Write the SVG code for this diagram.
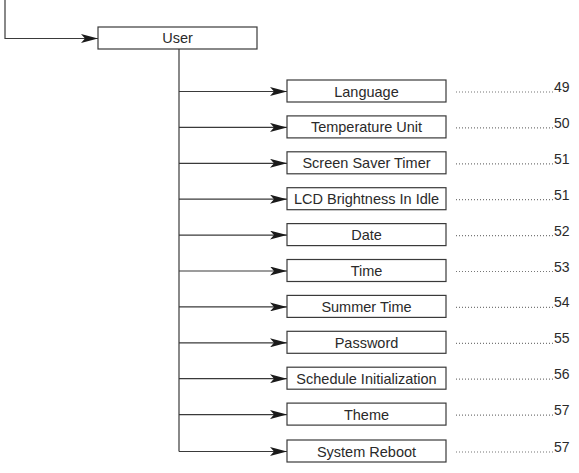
<svg xmlns="http://www.w3.org/2000/svg" width="579" height="473" viewBox="0 0 579 473">
<style>
.box{fill:#fff;stroke:#3a3a3a;stroke-width:1.2}
.lbl{font-family:"Liberation Sans",Arial,sans-serif;font-size:14.5px;fill:#2a2a2a;text-anchor:middle}
.num{font-family:"Liberation Sans",Arial,sans-serif;font-size:14px;fill:#2a2a2a}
.ln{fill:none;stroke:#3a3a3a;stroke-width:1.2}
.arr{fill:none;stroke:#3a3a3a;stroke-width:1.2;marker-end:url(#ah)}
.dot{fill:none;stroke:#777;stroke-width:1.2;stroke-dasharray:1 2}
</style>
<defs>
<marker id="ah" viewBox="0 0 17 9" refX="17" refY="4.5" markerWidth="17" markerHeight="9" markerUnits="userSpaceOnUse" orient="auto">
<path d="M0,0 L17,4.5 L0,9 L4,4.5 z" fill="#1a1a1a"/>
</marker>
</defs>
<g id="connectors">
<path class="arr" d="M5,0 V38.5 H98"/>
<path class="ln" d="M179,49 V451.5"/>
<path class="arr" d="M179,91.5 H287"/>
<path class="arr" d="M179,127.4 H287"/>
<path class="arr" d="M179,163.3 H287"/>
<path class="arr" d="M179,199.2 H287"/>
<path class="arr" d="M179,235.1 H287"/>
<path class="arr" d="M179,271 H287"/>
<path class="arr" d="M179,306.9 H287"/>
<path class="arr" d="M179,342.8 H287"/>
<path class="arr" d="M179,378.7 H287"/>
<path class="arr" d="M179,414.6 H287"/>
<path class="arr" d="M179,451.5 H287"/>
</g>
<g id="user"><rect class="box" x="98" y="27" width="159" height="22"/><text class="lbl" x="177.5" y="43">User</text></g>
<g id="language"><rect class="box" x="287" y="80" width="159" height="22"/><text class="lbl" x="366.5" y="96.5">Language</text><path class="dot" d="M456,92 H553"/><text class="num" x="554" y="92">49</text></g>
<g id="temperature-unit"><rect class="box" x="287" y="115.9" width="159" height="22"/><text class="lbl" x="366.5" y="132.4">Temperature Unit</text><path class="dot" d="M456,127.9 H553"/><text class="num" x="554" y="127.9">50</text></g>
<g id="screen-saver-timer"><rect class="box" x="287" y="151.8" width="159" height="22"/><text class="lbl" x="366.5" y="168.3">Screen Saver Timer</text><path class="dot" d="M456,163.8 H553"/><text class="num" x="554" y="163.8">51</text></g>
<g id="lcd-brightness"><rect class="box" x="287" y="187.7" width="159" height="22"/><text class="lbl" x="366.5" y="204.2">LCD Brightness In Idle</text><path class="dot" d="M456,199.7 H553"/><text class="num" x="554" y="199.7">51</text></g>
<g id="date"><rect class="box" x="287" y="223.6" width="159" height="22"/><text class="lbl" x="366.5" y="240.1">Date</text><path class="dot" d="M456,235.6 H553"/><text class="num" x="554" y="235.6">52</text></g>
<g id="time"><rect class="box" x="287" y="259.5" width="159" height="22"/><text class="lbl" x="366.5" y="276">Time</text><path class="dot" d="M456,271.5 H553"/><text class="num" x="554" y="271.5">53</text></g>
<g id="summer-time"><rect class="box" x="287" y="295.4" width="159" height="22"/><text class="lbl" x="366.5" y="311.9">Summer Time</text><path class="dot" d="M456,307.4 H553"/><text class="num" x="554" y="307.4">54</text></g>
<g id="password"><rect class="box" x="287" y="331.3" width="159" height="22"/><text class="lbl" x="366.5" y="347.8">Password</text><path class="dot" d="M456,343.3 H553"/><text class="num" x="554" y="343.3">55</text></g>
<g id="schedule-init"><rect class="box" x="287" y="367.2" width="159" height="22"/><text class="lbl" x="366.5" y="383.7">Schedule Initialization</text><path class="dot" d="M456,379.2 H553"/><text class="num" x="554" y="379.2">56</text></g>
<g id="theme"><rect class="box" x="287" y="403.1" width="159" height="22"/><text class="lbl" x="366.5" y="419.6">Theme</text><path class="dot" d="M456,415.1 H553"/><text class="num" x="554" y="415.1">57</text></g>
<g id="system-reboot"><rect class="box" x="287" y="440" width="159" height="22"/><text class="lbl" x="366.5" y="456.5">System Reboot</text><path class="dot" d="M456,452 H553"/><text class="num" x="554" y="452">57</text></g>
</svg>
